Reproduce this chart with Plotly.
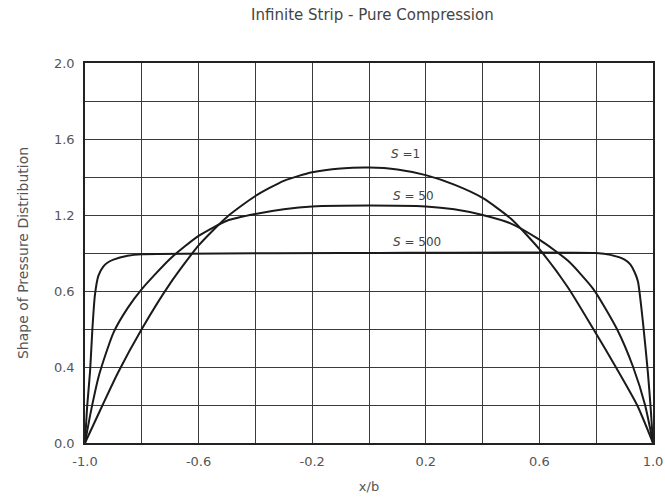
import plotly.graph_objects as go

# ---- data ----
s1_x = [-1.0, -0.938, -0.884, -0.8, -0.7, -0.6, -0.5, -0.4, -0.3, -0.2, -0.1, 0.0,
        0.1, 0.2, 0.3, 0.4, 0.5, 0.6, 0.7, 0.79, 0.873, 0.944, 1.0]
s1_y = [0.0, 0.2, 0.37, 0.6, 0.84, 1.04, 1.19, 1.3, 1.38, 1.425, 1.445, 1.45,
        1.44, 1.41, 1.36, 1.29, 1.18, 1.02, 0.82, 0.6, 0.39, 0.2, 0.0]

s50_x = [-1.0, -0.98, -0.95, -0.9, -0.85, -0.8, -0.7, -0.6, -0.5, -0.4, -0.3, -0.2, 0.0,
         0.2, 0.3, 0.4, 0.5, 0.6, 0.7, 0.79, 0.873, 0.93, 0.972, 1.0]
s50_y = [0.0, 0.16, 0.36, 0.58, 0.71, 0.81, 0.97, 1.09, 1.17, 1.205, 1.23, 1.245, 1.25,
         1.245, 1.23, 1.2, 1.155, 1.07, 0.96, 0.81, 0.6, 0.4, 0.2, 0.0]

s500_x = [-1.0, -0.992, -0.982, -0.974, -0.965, -0.953, -0.935, -0.92, -0.9, -0.85, -0.8, 0.0,
          0.8, 0.85, 0.9, 0.92, 0.935, 0.947, 0.965, 0.982, 0.992, 1.0]
s500_y = [0.0, 0.2, 0.38, 0.6, 0.78, 0.88, 0.93, 0.95, 0.965, 0.985, 0.993, 1.0,
          1.0, 0.99, 0.965, 0.94, 0.9, 0.85, 0.63, 0.37, 0.18, 0.0]

series_labels = ["<i>S</i> =1", "<i>S</i> = 50", "<i>S</i> = 500"]
label_pos_x = [0.07, 0.078, 0.078]
label_pos_y = [1.52, 1.30, 1.058]

x_tickvals = [-1.0, -0.8, -0.6, -0.4, -0.2, 0.0, 0.2, 0.4, 0.6, 0.8, 1.0]
x_ticktext = ["-1.0", "", "-0.6", "", "-0.2", "", "0.2", "", "0.6", "", "1.0"]
y_tickvals = [0.0, 0.2, 0.4, 0.6, 0.8, 1.0, 1.2, 1.4, 1.6, 1.8, 2.0]
y_ticktext = ["0.0", "", "0.4", "", "0.6", "", "1.2", "", "1.6", "", "2.0"]

title_text = "Infinite Strip - Pure Compression"
x_title = "x/b"
y_title = "Shape of Pressure Distribution"

FONT = "DejaVu Sans, Liberation Sans, Arial"

fig = go.Figure()
for xs, ys in [(s1_x, s1_y), (s50_x, s50_y), (s500_x, s500_y)]:
    fig.add_trace(go.Scatter(x=xs, y=ys, mode="lines",
                             line=dict(color="#1a1a1a", width=2, shape="spline", smoothing=0.6),
                             showlegend=False, hoverinfo="skip"))

for t, lx, ly in zip(series_labels, label_pos_x, label_pos_y):
    fig.add_annotation(x=lx, y=ly, text=t, showarrow=False, xanchor="left", yanchor="middle",
                       font=dict(family=FONT, size=12, color="#444"))

fig.update_layout(
    width=665, height=497,
    margin=dict(l=85, r=12, t=63, b=54),
    paper_bgcolor="white", plot_bgcolor="white",
    title=dict(text=title_text, x=0.56, xanchor="center", y=0.97, yanchor="middle",
               font=dict(family=FONT, size=15, color="#444")),
    font=dict(family=FONT, size=12, color="#555"),
)
fig.update_xaxes(range=[-1, 1], tickvals=x_tickvals, ticktext=x_ticktext,
                 showgrid=True, gridcolor="#3a3a3a", gridwidth=1,
                 showline=True, linecolor="#222", linewidth=1.5, mirror=True,
                 zeroline=False, ticks="", automargin=False, ticklabelstandoff=6,
                 tickfont=dict(family=FONT, size=13, color="#555"),
                 title=dict(text=x_title, standoff=14, font=dict(family=FONT, size=13, color="#555")))
fig.update_yaxes(range=[0, 2], tickvals=y_tickvals, ticktext=y_ticktext,
                 showgrid=True, gridcolor="#3a3a3a", gridwidth=1,
                 showline=True, linecolor="#222", linewidth=1.5, mirror=True,
                 zeroline=False, ticks="", automargin=False, ticklabelstandoff=6,
                 tickfont=dict(family=FONT, size=13, color="#555"),
                 title=dict(text=y_title, standoff=22, font=dict(family=FONT, size=14, color="#555")))

fig.write_html("out.html")
